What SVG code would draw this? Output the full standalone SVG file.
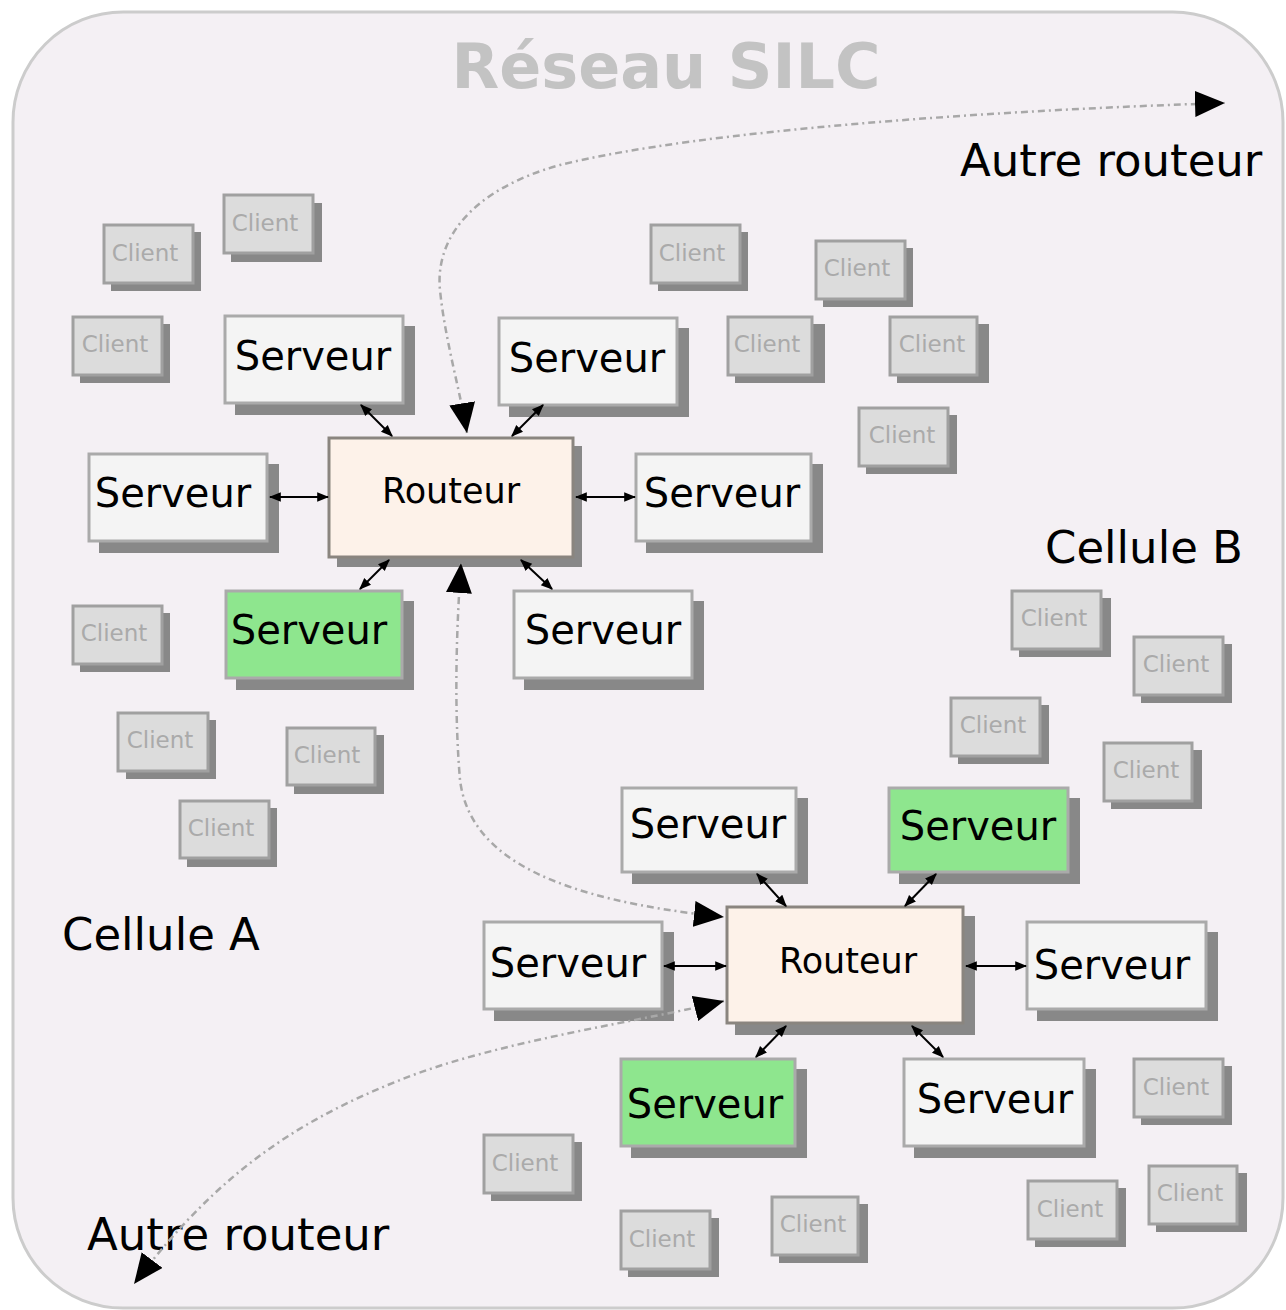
<svg xmlns="http://www.w3.org/2000/svg" width="1286" height="1310" viewBox="0 0 1286 1310">
<style>
.bg{fill:#f4f0f4;stroke:#cccccc;stroke-width:3}
.sh{fill:#888888}
.cl{fill:#dcdcdc;stroke:#a0a0a0;stroke-width:3}
.ct{font-family:"DejaVu Sans",sans-serif;font-size:23px;fill:#aaaaaa;text-anchor:middle}
.sv{fill:#f4f4f4;stroke:#aaaaaa;stroke-width:3}
.svg{fill:#8ee68e;stroke:#aaaaaa;stroke-width:3}
.st{font-family:"DejaVu Sans",sans-serif;font-size:40px;fill:#000;text-anchor:middle}
.rt{fill:#fdf2e9;stroke:#8a857f;stroke-width:3}
.rtt{font-family:"DejaVu Sans",sans-serif;font-size:35px;fill:#000;text-anchor:middle}
.lb{font-family:"DejaVu Sans",sans-serif;font-size:45px;fill:#000}
.link{stroke:#000;stroke-width:2;fill:none;marker-start:url(#sa);marker-end:url(#sa)}
.dl{stroke:#a8a8a8;stroke-width:2.5;fill:none;stroke-dasharray:7 4 2 4;marker-start:url(#ba);marker-end:url(#ba)}
</style>
<defs>
<marker id="sa" viewBox="0 0 10 10" refX="9" refY="5" markerWidth="12" markerHeight="12" markerUnits="userSpaceOnUse" orient="auto-start-reverse"><path d="M0,1 L10,5 L0,9 z" fill="#000"/></marker>
<marker id="ba" viewBox="0 0 10 10" refX="10" refY="5" markerWidth="30" markerHeight="26" markerUnits="userSpaceOnUse" orient="auto-start-reverse" preserveAspectRatio="none"><path d="M0,0 L10,5 L0,10 z" fill="#000"/></marker>
</defs>
<rect class="bg" x="13" y="12" width="1270" height="1296" rx="110" ry="110"/>
<text x="666" y="88" font-family="'DejaVu Sans',sans-serif" font-weight="bold" font-size="62" fill="#c3c3c3" text-anchor="middle">Réseau SILC</text>
<text class="lb" x="960" y="176">Autre routeur</text>
<text class="lb" x="87" y="1250">Autre routeur</text>
<text class="lb" x="1045" y="563">Cellule B</text>
<text class="lb" x="62" y="950">Cellule A</text>

<g id="routeurA"><rect class="sh" x="337" y="446" width="245" height="121"/><rect class="rt" x="329" y="438" width="244" height="119"/><text class="rtt" x="451" y="503">Routeur</text></g>
<g id="routeurB"><rect class="sh" x="735" y="916" width="240" height="119"/><rect class="rt" x="727" y="907" width="236" height="116"/><text class="rtt" x="848" y="973">Routeur</text></g>

<g id="serveurA1"><rect class="sh" x="235" y="326" width="180" height="89"/><rect class="sv" x="225" y="316" width="178" height="87"/><text class="st" x="313" y="370">Serveur</text></g>
<g id="serveurA2"><rect class="sh" x="509" y="328" width="180" height="89"/><rect class="sv" x="499" y="318" width="178" height="87"/><text class="st" x="587" y="372">Serveur</text></g>
<g id="serveurA3"><rect class="sh" x="99" y="464" width="180" height="89"/><rect class="sv" x="89" y="454" width="178" height="87"/><text class="st" x="173" y="507">Serveur</text></g>
<g id="serveurA4"><rect class="sh" x="646" y="464" width="177" height="89"/><rect class="sv" x="636" y="454" width="175" height="87"/><text class="st" x="722" y="507">Serveur</text></g>
<g id="serveurA5"><rect class="sh" x="236" y="601" width="178" height="89"/><rect class="svg" x="226" y="591" width="176" height="87"/><text class="st" x="309" y="644">Serveur</text></g>
<g id="serveurA6"><rect class="sh" x="524" y="601" width="180" height="89"/><rect class="sv" x="514" y="591" width="178" height="87"/><text class="st" x="603" y="644">Serveur</text></g>

<g id="serveurB1"><rect class="sh" x="632" y="798" width="176" height="86"/><rect class="sv" x="622" y="788" width="174" height="84"/><text class="st" x="708" y="838">Serveur</text></g>
<g id="serveurB2"><rect class="sh" x="899" y="798" width="181" height="86"/><rect class="svg" x="889" y="788" width="179" height="84"/><text class="st" x="978" y="840">Serveur</text></g>
<g id="serveurB3"><rect class="sh" x="494" y="932" width="180" height="89"/><rect class="sv" x="484" y="922" width="178" height="87"/><text class="st" x="568" y="977">Serveur</text></g>
<g id="serveurB4"><rect class="sh" x="1037" y="932" width="181" height="89"/><rect class="sv" x="1027" y="922" width="179" height="87"/><text class="st" x="1112" y="979">Serveur</text></g>
<g id="serveurB5"><rect class="sh" x="631" y="1069" width="176" height="89"/><rect class="svg" x="621" y="1059" width="174" height="87"/><text class="st" x="705" y="1118">Serveur</text></g>
<g id="serveurB6"><rect class="sh" x="914" y="1069" width="182" height="89"/><rect class="sv" x="904" y="1059" width="180" height="87"/><text class="st" x="995" y="1113">Serveur</text></g>

<g id="client1"><rect class="sh" x="111" y="232" width="90" height="59"/><rect class="cl" x="104" y="225" width="89" height="58"/><text class="ct" x="145" y="261">Client</text></g>
<g id="client2"><rect class="sh" x="231" y="203" width="91" height="59"/><rect class="cl" x="224" y="195" width="89" height="58"/><text class="ct" x="265" y="231">Client</text></g>
<g id="client3"><rect class="sh" x="80" y="324" width="90" height="59"/><rect class="cl" x="73" y="317" width="89" height="58"/><text class="ct" x="115" y="352">Client</text></g>
<g id="client4"><rect class="sh" x="658" y="232" width="90" height="59"/><rect class="cl" x="651" y="225" width="89" height="58"/><text class="ct" x="692" y="261">Client</text></g>
<g id="client5"><rect class="sh" x="823" y="248" width="90" height="59"/><rect class="cl" x="816" y="241" width="89" height="58"/><text class="ct" x="857" y="276">Client</text></g>
<g id="client6"><rect class="sh" x="735" y="324" width="90" height="59"/><rect class="cl" x="728" y="317" width="84" height="58"/><text class="ct" x="767" y="352">Client</text></g>
<g id="client7"><rect class="sh" x="897" y="324" width="92" height="59"/><rect class="cl" x="890" y="317" width="87" height="58"/><text class="ct" x="932" y="352">Client</text></g>
<g id="client8"><rect class="sh" x="866" y="415" width="91" height="59"/><rect class="cl" x="859" y="408" width="89" height="58"/><text class="ct" x="902" y="443">Client</text></g>
<g id="client9"><rect class="sh" x="80" y="613" width="90" height="59"/><rect class="cl" x="73" y="606" width="89" height="58"/><text class="ct" x="114" y="641">Client</text></g>
<g id="client10"><rect class="sh" x="126" y="720" width="90" height="59"/><rect class="cl" x="118" y="713" width="90" height="58"/><text class="ct" x="160" y="748">Client</text></g>
<g id="client11"><rect class="sh" x="294" y="735" width="90" height="59"/><rect class="cl" x="287" y="728" width="88" height="57"/><text class="ct" x="327" y="763">Client</text></g>
<g id="client12"><rect class="sh" x="187" y="808" width="90" height="59"/><rect class="cl" x="180" y="801" width="89" height="57"/><text class="ct" x="221" y="836">Client</text></g>
<g id="client13"><rect class="sh" x="1019" y="598" width="92" height="59"/><rect class="cl" x="1012" y="591" width="89" height="58"/><text class="ct" x="1054" y="626">Client</text></g>
<g id="client14"><rect class="sh" x="1141" y="644" width="91" height="59"/><rect class="cl" x="1134" y="637" width="89" height="58"/><text class="ct" x="1176" y="672">Client</text></g>
<g id="client15"><rect class="sh" x="958" y="705" width="91" height="59"/><rect class="cl" x="951" y="698" width="89" height="58"/><text class="ct" x="993" y="733">Client</text></g>
<g id="client16"><rect class="sh" x="1111" y="750" width="91" height="59"/><rect class="cl" x="1104" y="743" width="88" height="58"/><text class="ct" x="1146" y="778">Client</text></g>
<g id="client17"><rect class="sh" x="1141" y="1066" width="91" height="59"/><rect class="cl" x="1134" y="1059" width="89" height="58"/><text class="ct" x="1176" y="1095">Client</text></g>
<g id="client18"><rect class="sh" x="491" y="1142" width="91" height="59"/><rect class="cl" x="484" y="1135" width="89" height="58"/><text class="ct" x="525" y="1171">Client</text></g>
<g id="client19"><rect class="sh" x="1156" y="1173" width="91" height="59"/><rect class="cl" x="1149" y="1166" width="88" height="58"/><text class="ct" x="1190" y="1201">Client</text></g>
<g id="client20"><rect class="sh" x="1035" y="1188" width="91" height="59"/><rect class="cl" x="1028" y="1181" width="89" height="58"/><text class="ct" x="1070" y="1217">Client</text></g>
<g id="client21"><rect class="sh" x="779" y="1204" width="89" height="59"/><rect class="cl" x="772" y="1197" width="86" height="58"/><text class="ct" x="813" y="1232">Client</text></g>
<g id="client22"><rect class="sh" x="628" y="1218" width="91" height="59"/><rect class="cl" x="621" y="1211" width="89" height="58"/><text class="ct" x="662" y="1247">Client</text></g>

<g id="connectors">
<path class="dl" d="M467,433 C460,390 445,340 440,290 C435,240 470,190 560,165 C700,130 1000,110 1225,103"/>
<path class="dl" d="M461,563 C455,650 455,720 460,780 C470,860 560,900 724,917"/>
<path class="dl" d="M724,1001 C650,1020 500,1040 400,1080 C300,1120 220,1170 134,1284"/>
<line class="link" x1="361" y1="405" x2="392" y2="436"/>
<line class="link" x1="543" y1="405" x2="512" y2="436"/>
<line class="link" x1="270" y1="497" x2="328" y2="497"/>
<line class="link" x1="576" y1="497" x2="635" y2="497"/>
<line class="link" x1="389" y1="560" x2="360" y2="589"/>
<line class="link" x1="521" y1="560" x2="552" y2="589"/>
<line class="link" x1="757" y1="874" x2="786" y2="906"/>
<line class="link" x1="936" y1="874" x2="905" y2="906"/>
<line class="link" x1="664" y1="966" x2="726" y2="966"/>
<line class="link" x1="966" y1="966" x2="1026" y2="966"/>
<line class="link" x1="786" y1="1026" x2="756" y2="1057"/>
<line class="link" x1="912" y1="1026" x2="943" y2="1057"/>
</g>
</svg>
